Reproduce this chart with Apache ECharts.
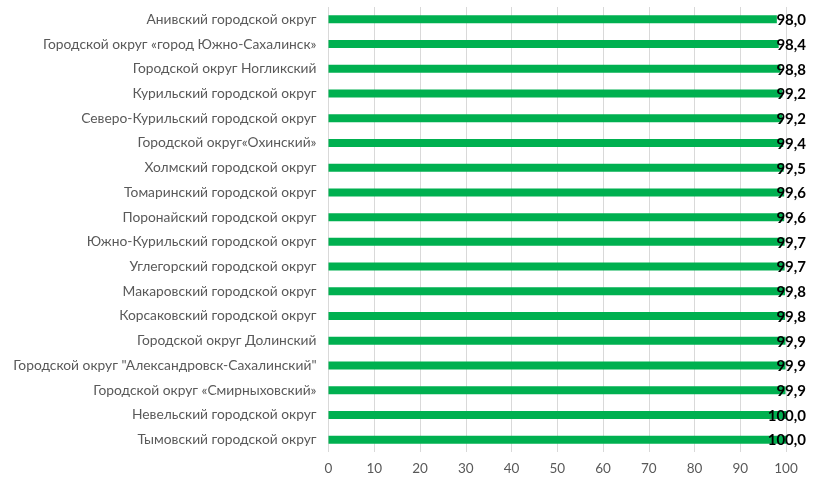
<!DOCTYPE html>
<html><head><meta charset="utf-8">
<script src="https://cdn.jsdelivr.net/npm/echarts@6/dist/echarts.min.js"></script>
<style>html,body{margin:0;padding:0;background:#fff}#c{width:815px;height:477px}</style>
</head><body><div id="c"></div>
<script>
var categories = [
  'Анивский городской округ',
  'Городской округ «город Южно-Сахалинск»',
  'Городской округ Ногликский',
  'Курильский городской округ',
  'Северо-Курильский городской округ',
  'Городской округ«Охинский»',
  'Холмский городской округ',
  'Томаринский городской округ',
  'Поронайский городской округ',
  'Южно-Курильский городской округ',
  'Углегорский городской округ',
  'Макаровский городской округ',
  'Корсаковский городской округ',
  'Городской округ Долинский',
  'Городской округ "Александровск-Сахалинский"',
  'Городской округ «Смирныховский»',
  'Невельский городской округ',
  'Тымовский городской округ'
];
var values = [98.0, 98.4, 98.8, 99.2, 99.2, 99.4, 99.5, 99.6, 99.6, 99.7, 99.7, 99.8, 99.8, 99.9, 99.9, 99.9, 100.0, 100.0];
var axisMax = 100;
var chart = echarts.init(document.getElementById('c'));
chart.setOption({
  animation: false,
  grid: {left: 328.5, right: 29, top: 7, bottom: 25, containLabel: false},
  xAxis: {
    type: 'value', min: 0, max: 100, interval: 10,
    axisLine: {show: false}, axisTick: {show: false},
    splitLine: {lineStyle: {color: '#d9d9d9', width: 1}},
    axisLabel: {color: '#595959', fontSize: 13.5, fontFamily: 'Lato', margin: 10}
  },
  yAxis: {
    type: 'category', data: categories, inverse: true,
    axisLine: {show: false}, axisTick: {show: false},
    axisLabel: {color: '#595959', fontSize: 13.8, fontFamily: 'Lato', margin: 12}
  },
  series: [
    {
      type: 'bar', data: values, barWidth: 8,
      itemStyle: {color: '#00B050'}, z: 2
    },
    {
      type: 'bar', data: values.map(function(){return axisMax;}), barWidth: 8, barGap: '-100%',
      itemStyle: {color: 'rgba(0,0,0,0)'}, silent: true, z: 3,
      label: {
        show: true, position: 'insideRight', offset: [25, 1],
        color: '#000', fontWeight: 'bold', fontSize: 15, fontFamily: 'Lato',
        formatter: function(p){ return values[p.dataIndex].toFixed(1).replace('.', ','); }
      }
    }
  ]
});
</script></body></html>
